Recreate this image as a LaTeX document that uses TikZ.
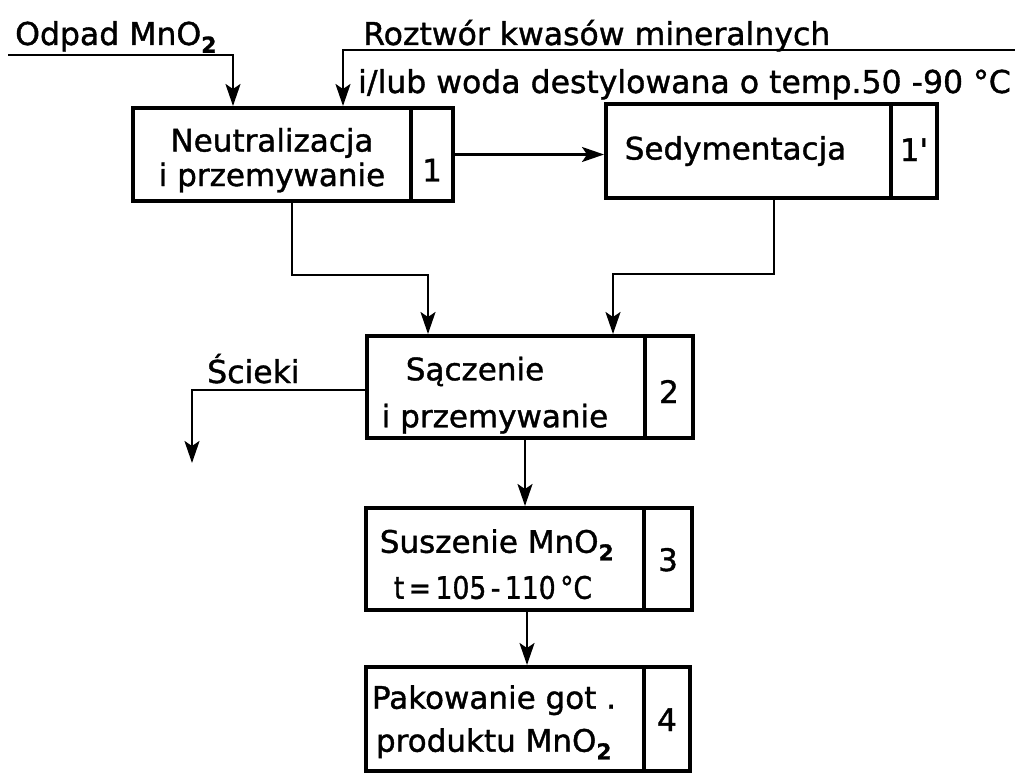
\documentclass[tikz,border=0pt]{standalone}
\usepackage{fontspec}
\setmainfont{DejaVu Sans}[FakeBold=1.2]
\usetikzlibrary{arrows.meta}
\begin{document}
\begin{tikzpicture}[x=1pt,y=-1pt,
  boxmain/.style={draw, line width=4pt, inner sep=0pt, align=center},
  boxnum/.style={draw, line width=4pt, inner sep=0pt},
  flow/.style={line width=2.4pt, -{Stealth[length=22pt,width=15pt,inset=5pt]}},
  lbl/.style={inner sep=0pt, anchor=base west, font=\fontsize{31.5}{36}\selectfont}
]
\useasboundingbox (0,0) rectangle (1015,773);

% --- boxes ---
\node[boxmain, minimum width=278, minimum height=93, font=\fontsize{31}{34.5}\selectfont] (b1) at (272,154.5) {\rule{0pt}{35pt}Neutralizacja\\i przemywanie};
\node[boxnum, minimum width=42, minimum height=93, font=\fontsize{31}{35}\selectfont] (b1n) at (432,154.5) {\raisebox{-27pt}[0pt][0pt]{1}};

\node[boxmain, minimum width=285, minimum height=94, font=\fontsize{31}{35}\selectfont] (b1p) at (748.5,151) {\hspace*{-26pt}\raisebox{2pt}{Sedymentacja}};
\node[boxnum, minimum width=46, minimum height=94, font=\fontsize{31}{35}\selectfont] (b1pn) at (914,151) {\raisebox{-10pt}[0pt][0pt]{1\textquotesingle}};

\node[boxmain, minimum width=278, minimum height=102, font=\fontsize{31}{47}\selectfont] (b2) at (506,387) {\hspace*{-62pt}\rule{0pt}{40pt}Sączenie\\\hspace*{-22pt}i przemywanie};
\node[boxnum, minimum width=48, minimum height=102, font=\fontsize{31}{46}\selectfont] (b2n) at (669,387) {\raisebox{-16pt}[0pt][0pt]{2}};

\node[boxmain, minimum width=278, minimum height=102, font=\fontsize{31}{46}\selectfont] (b3) at (505,559) {\hspace*{-16pt}\rule{0pt}{34pt}Suszenie MnO\textsubscript{\textbf{2}}\\\hspace*{-24pt}\scalebox{0.86}[1]{t\,=\,105\,-\,110\,°C}};
\node[boxnum, minimum width=48, minimum height=102, font=\fontsize{31}{46}\selectfont] (b3n) at (668,559) {\raisebox{-12pt}[0pt][0pt]{3}};

\node[boxmain, minimum width=278, minimum height=104, font=\fontsize{31}{43}\selectfont] (b4) at (505,719) {\hspace*{-22pt}\rule{0pt}{30pt}Pakowanie got .\\\hspace*{-22pt}produktu MnO\textsubscript{\textbf{2}}};
\node[boxnum, minimum width=46, minimum height=104, font=\fontsize{31}{44}\selectfont] (b4n) at (667,719) {\raisebox{-12pt}[0pt][0pt]{4}};

% --- labels ---
\node[lbl] (todpad) at (15,45) {Odpad MnO\textsubscript{\textbf{2}}};
\node[lbl] (troz) at (363,45) {Roztwór kwasów mineralnych};
\node[lbl] (twoda) at (358,93) {i/lub woda destylowana o temp.50 -90 °C};
\node[lbl] (tscieki) at (207,383) {Ścieki};

% --- connector coordinates ---
\coordinate (od0) at (8,55);
\coordinate (od1) at (233,55);
\coordinate (rz0) at (1015,50);
\coordinate (rz1) at (343,50);
\coordinate (m1a) at (292,275);
\coordinate (m1b) at (428,275);
\coordinate (m2a) at (774,274);
\coordinate (m2b) at (613,274);
\coordinate (sc0) at (192,390);
\coordinate (sc1) at (192,463);

% --- connectors ---
\draw[flow] (od0) -- (od1) -- (od1 |- b1.north);
\draw[flow] (rz0) -- (rz1) -- (rz1 |- b1.north);
\draw[flow] (b1n.east) -- (b1n.east -| b1p.west);
\draw[flow] (m1a |- b1.south) -- (m1a) -- (m1b) -- (m1b |- b2.north);
\draw[flow] (m2a |- b1p.south) -- (m2a) -- (m2b) -- (m2b |- b2.north);
\draw[flow] (b2.west |- sc0) -- (sc0) -- (sc1);
\draw[flow] (525,0 |- b2.south) -- (525,0 |- b3.north);
\draw[flow] (527,0 |- b3.south) -- (527,0 |- b4.north);
\end{tikzpicture}
\end{document}
